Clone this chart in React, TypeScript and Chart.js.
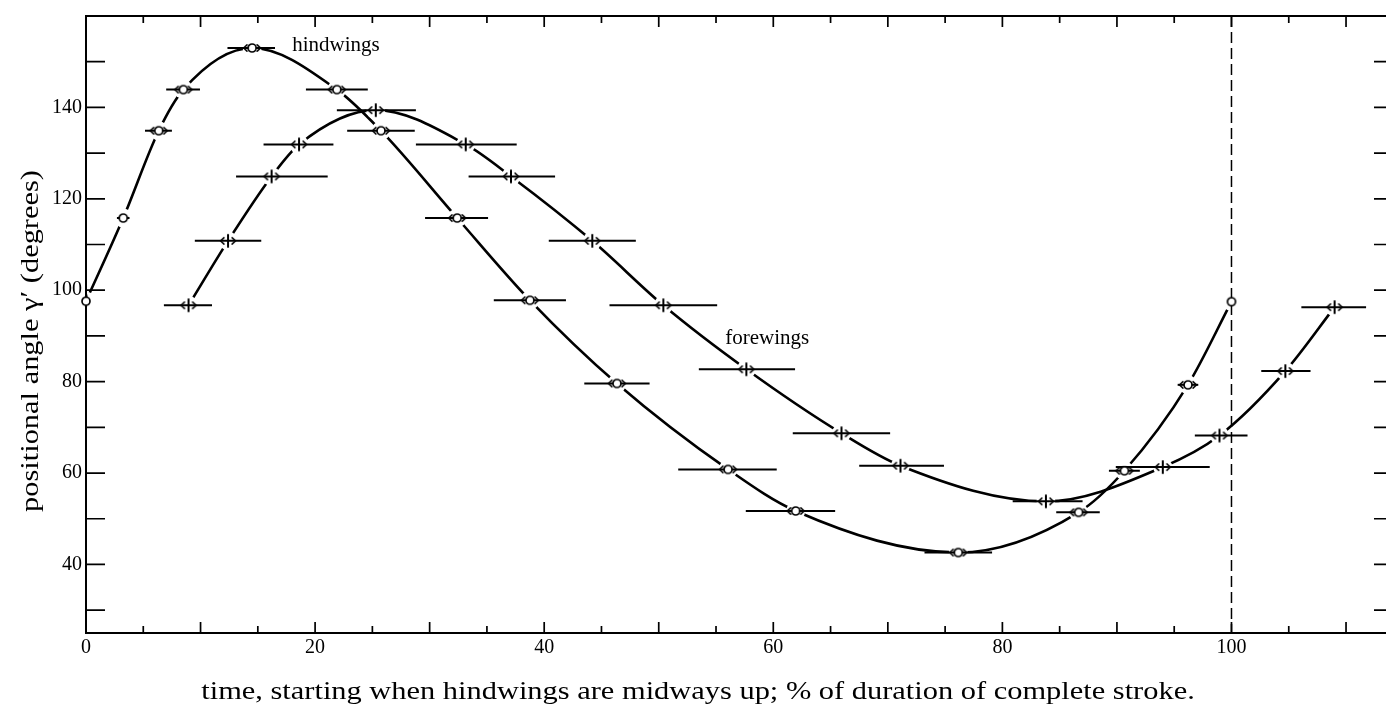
import { useEffect, useRef } from 'react';
import { Chart, registerables } from 'chart.js';

Chart.register(...registerables);

// Hindwings: time (% of stroke) of each reading, its positional angle, and the time range it spans
const hindTime = [0, 3.25, 6.35, 8.5, 14.5, 21.9, 25.75, 32.4, 38.75, 46.35, 56.05, 61.95, 76.15, 86.65, 90.65, 96.2, 100];
const hindAngle = [97.6, 115.8, 134.9, 143.9, 153, 143.9, 134.9, 115.8, 97.8, 79.6, 60.8, 51.7, 42.6, 51.4, 60.5, 79.3, 97.5];
const hindFrom = [0, 2.7, 5.15, 7.0, 12.35, 19.2, 22.8, 29.6, 35.6, 43.5, 51.7, 57.6, 73.2, 84.7, 89.3, 95.3, 100];
const hindTo = [0, 3.8, 7.5, 9.95, 16.5, 24.6, 28.7, 35.1, 41.9, 49.2, 60.3, 65.4, 79.1, 88.5, 92.0, 97.1, 100];

// Forewings
const foreTime = [8.95, 12.4, 16.2, 18.6, 25.3, 33.15, 37.1, 44.2, 50.4, 57.65, 65.95, 71.1, 83.8, 94.0, 98.95, 104.7, 109.0];
const foreAngle = [96.7, 110.8, 124.9, 131.9, 139.4, 131.9, 124.9, 110.8, 96.7, 82.7, 68.7, 61.6, 53.8, 61.3, 68.2, 82.3, 96.3];
const foreFrom = [6.8, 9.5, 13.1, 15.5, 21.9, 28.8, 33.4, 40.4, 45.7, 53.5, 61.7, 67.5, 80.9, 89.9, 96.8, 102.6, 106.1];
const foreTo = [11.0, 15.3, 21.1, 21.6, 28.8, 37.6, 40.95, 48.0, 55.1, 61.9, 70.2, 74.9, 87.0, 98.1, 101.4, 106.9, 111.75];

const xTickValues = [0, 20, 40, 60, 80, 100];
const yTickValues = [40, 60, 80, 100, 120, 140];
const strokeEnd = 100;

const xTitle = 'time, starting when hindwings are midways up; % of duration of complete stroke.';
const yTitle = 'positional angle \u03b3\u2032 (degrees)';
const hindName = 'hindwings';
const foreName = 'forewings';

const SERIF = '"Liberation Serif", "DejaVu Serif", serif';
const INK = '#000';

function makeMarker(kind: 'ring' | 'ringArrows' | 'cross'): HTMLCanvasElement {
  const c = document.createElement('canvas');
  c.width = 28;
  c.height = 18;
  const g = c.getContext('2d')!;
  const cx = 14;
  const cy = 9;
  g.strokeStyle = INK;
  g.lineCap = 'round';
  g.lineJoin = 'round';
  const chevrons = (gap: number) => {
    g.lineWidth = 1.6;
    g.beginPath();
    g.moveTo(cx - gap + 3.4, cy - 3.2);
    g.lineTo(cx - gap, cy);
    g.lineTo(cx - gap + 3.4, cy + 3.2);
    g.moveTo(cx + gap - 3.4, cy - 3.2);
    g.lineTo(cx + gap, cy);
    g.lineTo(cx + gap - 3.4, cy + 3.2);
    g.stroke();
  };
  if (kind === 'cross') {
    g.lineWidth = 2;
    g.beginPath();
    g.moveTo(cx, cy - 6);
    g.lineTo(cx, cy + 6);
    g.stroke();
    chevrons(7.5);
  } else {
    g.fillStyle = '#fff';
    g.lineWidth = 1.7;
    g.beginPath();
    g.arc(cx, cy, 4, 0, Math.PI * 2);
    g.fill();
    g.stroke();
    if (kind === 'ringArrows') chevrons(8.5);
  }
  return c;
}

// Caption text set a little wider than the font's natural width
function drawWideText(ctx: CanvasRenderingContext2D, text: string, x: number, y: number, stretch: number) {
  ctx.save();
  ctx.translate(x, y);
  ctx.scale(stretch, 1);
  ctx.fillText(text, 0, 0);
  ctx.restore();
}

export default function App() {
  const ref = useRef<HTMLCanvasElement | null>(null);

  useEffect(() => {
    const canvas = ref.current;
    if (!canvas) return;

    const ring = makeMarker('ring');
    const ringArrows = makeMarker('ringArrows');
    const cross = makeMarker('cross');

    const hindPts = hindTime.map((t, i) => ({ x: t, y: hindAngle[i] }));
    const forePts = foreTime.map((t, i) => ({ x: t, y: foreAngle[i] }));

    // Curves are broken around every reading; the time-range bars and the
    // end-of-stroke line are drawn just before the markers.
    const decor = {
      id: 'decor',
      beforeDatasetDraw(chart: any, args: any) {
        if (args.index !== 3) return;
        const { ctx, chartArea, scales } = chart;
        const xs = scales.x;
        const ys = scales.y;
        const series = [
          { t: hindTime, a: hindAngle, lo: hindFrom, hi: hindTo },
          { t: foreTime, a: foreAngle, lo: foreFrom, hi: foreTo },
        ];
        ctx.save();
        ctx.beginPath();
        ctx.rect(chartArea.left + 1.5, chartArea.top + 1.5, chartArea.width - 3, chartArea.height - 3);
        ctx.clip();
        ctx.globalCompositeOperation = 'destination-out';
        for (const s of series) {
          s.t.forEach((t, i) => {
            ctx.beginPath();
            ctx.arc(xs.getPixelForValue(t), ys.getPixelForValue(s.a[i]), 9.5, 0, Math.PI * 2);
            ctx.fill();
          });
        }
        ctx.restore();

        ctx.save();
        ctx.strokeStyle = INK;
        ctx.lineWidth = 2;
        for (const s of series) {
          s.t.forEach((_t, i) => {
            if (s.hi[i] - s.lo[i] <= 0) return;
            const py = ys.getPixelForValue(s.a[i]);
            ctx.beginPath();
            ctx.moveTo(xs.getPixelForValue(s.lo[i]), py);
            ctx.lineTo(xs.getPixelForValue(s.hi[i]), py);
            ctx.stroke();
          });
        }
        const px = xs.getPixelForValue(strokeEnd);
        ctx.lineWidth = 1.5;
        ctx.setLineDash([11, 5]);
        ctx.beginPath();
        ctx.moveTo(px, chartArea.top);
        ctx.lineTo(px, chartArea.bottom);
        ctx.stroke();
        ctx.restore();
      },
      afterDraw(chart: any) {
        const { ctx, chartArea, scales } = chart;
        const xs = scales.x;
        const ys = scales.y;
        const { left, right, top, bottom } = chartArea;
        ctx.save();
        ctx.strokeStyle = INK;
        ctx.lineWidth = 1.8;
        ctx.beginPath();
        ctx.moveTo(left, top);
        ctx.lineTo(right, top);
        ctx.lineTo(right, bottom);
        ctx.stroke();

        // inward tick marks on all four sides
        ctx.lineWidth = 1.7;
        ctx.beginPath();
        for (let v = 5; v < xs.max; v += 5) {
          const px = xs.getPixelForValue(v);
          const len = v % 10 === 0 ? 11 : 7;
          ctx.moveTo(px, bottom);
          ctx.lineTo(px, bottom - len);
          ctx.moveTo(px, top);
          ctx.lineTo(px, top + len);
        }
        for (let v = 30; v < ys.max; v += 10) {
          const py = ys.getPixelForValue(v);
          ctx.moveTo(left, py);
          ctx.lineTo(left + 19, py);
          ctx.moveTo(right, py);
          ctx.lineTo(right - 19, py);
        }
        ctx.stroke();

        ctx.fillStyle = INK;
        ctx.font = `21px ${SERIF}`;
        ctx.textAlign = 'left';
        ctx.textBaseline = 'alphabetic';
        ctx.fillText(hindName, xs.getPixelForValue(18.0), ys.getPixelForValue(152.3));
        ctx.fillText(foreName, xs.getPixelForValue(55.8), ys.getPixelForValue(88.3));

        ctx.font = `26px ${SERIF}`;
        ctx.textAlign = 'center';
        drawWideText(ctx, xTitle, 698, 699, 1.17);

        ctx.translate(38, 341);
        ctx.rotate(-Math.PI / 2);
        drawWideText(ctx, yTitle, 0, 0, 1.17);
        ctx.restore();
      },
    };

    const tickFont = { family: SERIF, size: 20 };

    const chart = new Chart(canvas, {
      type: 'line',
      data: {
        datasets: [
          {
            label: hindName,
            data: hindPts,
            borderColor: INK,
            borderWidth: 2.6,
            pointRadius: 0,
            cubicInterpolationMode: 'monotone',
            fill: false,
            order: 2,
          },
          {
            label: foreName,
            data: forePts,
            borderColor: INK,
            borderWidth: 2.6,
            pointRadius: 0,
            cubicInterpolationMode: 'monotone',
            fill: false,
            order: 2,
          },
          {
            type: 'scatter',
            label: hindName,
            data: hindPts,
            showLine: false,
            clip: false,
            pointRadius: 6,
            pointStyle: (c: any) =>
              hindTo[c.dataIndex] - hindFrom[c.dataIndex] > 1.5 ? ringArrows : ring,
            order: 1,
          },
          {
            type: 'scatter',
            label: foreName,
            data: forePts,
            showLine: false,
            clip: false,
            pointRadius: 6,
            pointStyle: cross,
            order: 1,
          },
        ] as any,
      },
      options: {
        responsive: false,
        animation: false,
        devicePixelRatio: 1,
        events: [],
        layout: { padding: { top: 14, right: 4, left: 0, bottom: 0 } },
        plugins: { legend: { display: false }, tooltip: { enabled: false } },
        scales: {
          x: {
            type: 'linear',
            min: 0,
            max: 114.1,
            afterFit: (s: any) => {
              s.height = 72;
            },
            afterBuildTicks: (s: any) => {
              s.ticks = xTickValues.map((v) => ({ value: v }));
            },
            grid: { display: false, drawTicks: false },
            border: { display: true, color: INK, width: 2 },
            ticks: { font: tickFont, color: INK, padding: 3, autoSkip: false, maxRotation: 0 },
          },
          y: {
            type: 'linear',
            min: 25,
            max: 160,
            afterFit: (s: any) => {
              s.width = 86;
            },
            afterBuildTicks: (s: any) => {
              s.ticks = yTickValues.map((v) => ({ value: v }));
            },
            grid: { display: false, drawTicks: false },
            border: { display: true, color: INK, width: 2 },
            ticks: { font: tickFont, color: INK, padding: 4, autoSkip: false },
          },
        },
      } as any,
      plugins: [decor],
    });

    return () => chart.destroy();
  }, []);

  return (
    <div
      style={{
        position: 'fixed',
        left: 0,
        top: 0,
        width: 1386,
        height: 705,
        overflow: 'hidden',
        background: '#fff',
      }}
    >
      <canvas ref={ref} width={1400} height={705} style={{ display: 'block' }} />
    </div>
  );
}
